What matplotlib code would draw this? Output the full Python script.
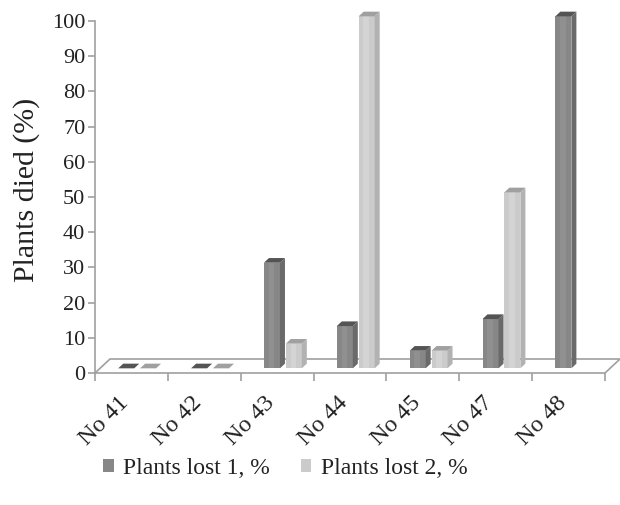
import matplotlib
matplotlib.use("Agg")
import matplotlib.pyplot as plt
from matplotlib.patches import Polygon, Rectangle
import numpy as np

# dados
categorias = ["No 41", "No 42", "No 43", "No 44", "No 45", "No 47", "No 48"]
perdas_1 = [0, 0, 30, 12, 5, 14, 100]
perdas_2 = [0, 0, 7, 100, 5, 50, np.nan]
series = ["Plants lost 1, %", "Plants lost 2, %"]

# cores: frente, faixa clara, lateral, topo
cores_1 = ("#878787", "#909090", "#6a6a6a", "#545454")
cores_2 = ("#cbcbcb", "#d4d4d4", "#b2b2b2", "#a0a0a0")

plt.rcParams['font.family'] = ['Liberation Serif', 'DejaVu Serif']

# profundidade do "piso" em unidades de dados
DX, DY = 0.206, 3.98
EIXO = "#a0a0a0"


def desenhar_barra(ax, x0, w, val, cores):
    """Barra pseudo-3D: frente, lateral direita e topo."""
    if np.isnan(val):
        return
    fx, fy = DX / 3, DY / 3
    sx, sy = DX / 3, DY / 3
    xa = x0 + fx
    base = fy
    topo = val + fy
    frente, faixa, lateral, cor_topo = cores
    ax.add_patch(Rectangle((xa, base), w, val, facecolor=frente, edgecolor="none",
                           clip_on=False, zorder=3))
    ax.add_patch(Rectangle((xa + w * 0.3, base), w * 0.35, val, facecolor=faixa,
                           edgecolor="none", clip_on=False, zorder=3))
    ax.add_patch(Polygon([(xa + w, base), (xa + w + sx, base + sy),
                          (xa + w + sx, topo + sy), (xa + w, topo)],
                         closed=True, facecolor=lateral, edgecolor="none",
                         clip_on=False, zorder=3))
    ax.add_patch(Polygon([(xa, topo), (xa + w, topo), (xa + w + sx, topo + sy),
                          (xa + sx, topo + sy)], closed=True, facecolor=cor_topo,
                         edgecolor="none", clip_on=False, zorder=3))


fig = plt.figure(figsize=(6.2, 5.05), dpi=100)
ax = fig.add_axes([95 / 620, 132 / 505, 510 / 620, 352 / 505])

n = len(categorias)
ax.set_xlim(0, n)
ax.set_ylim(0, 100)

# piso
piso = Polygon([(0, 0), (n, 0), (n + DX, DY), (DX, DY)], closed=True,
               facecolor="white", edgecolor=EIXO, linewidth=1.2, clip_on=False, zorder=1)
ax.add_patch(piso)

w = 0.22
for i in range(n):
    c = i + 0.5
    desenhar_barra(ax, c - 0.25, w, perdas_1[i], cores_1)
    desenhar_barra(ax, c + 0.05, w, perdas_2[i], cores_2)

for lado in ["top", "right", "bottom"]:
    ax.spines[lado].set_visible(False)
ax.spines["left"].set_color(EIXO)
ax.spines["left"].set_linewidth(1.2)

ax.set_yticks(np.arange(0, 101, 10))
ax.tick_params(axis="y", colors=EIXO, labelcolor="#222222", labelsize=16,
               length=5, width=1.2, pad=2)

ax.set_xticks(np.arange(0, n + 1))
ax.set_xticklabels([])
ax.tick_params(axis="x", which="major", colors=EIXO, length=6, width=1.2)
ax.set_xticks(np.arange(n) + 0.32, minor=True)
ax.set_xticklabels(categorias, minor=True, rotation=45, ha="right",
                   rotation_mode="anchor", fontsize=17.5, color="#222222")
ax.tick_params(axis="x", which="minor", length=0, pad=14)

ax.set_ylabel("Plants died (%)", fontsize=21.5, color="#222222")
ax.yaxis.set_label_coords(-0.108, 0.52)

alcas = [Rectangle((0, 0), 1, 1, facecolor=cores_1[0]),
         Rectangle((0, 0), 1, 1, facecolor=cores_2[0])]
fig.legend(alcas, series, loc="center", bbox_to_anchor=(0.46, 0.072), ncol=2,
           frameon=False, fontsize=17, handlelength=0.45, handleheight=0.45,
           handletextpad=0.4, columnspacing=1.3, labelcolor="#222222")

fig.savefig("out.png", dpi=100)
